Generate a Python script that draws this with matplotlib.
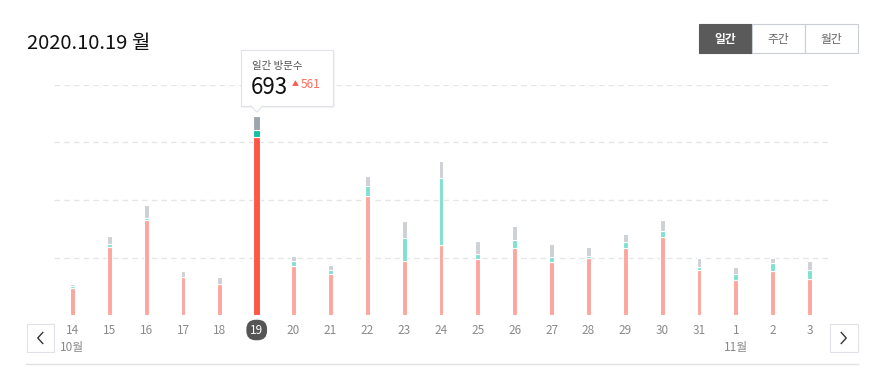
import matplotlib
matplotlib.use("Agg")
import matplotlib.pyplot as plt
import numpy as np
from matplotlib.patches import Rectangle, Polygon
from matplotlib.transforms import Affine2D, blended_transform_factory

plt.rcParams['font.family'] = ['Noto Sans CJK KR', 'DejaVu Sans']

W, H = 881, 387

# daily visitors, 2020.10.14 ~ 2020.11.03
days = ['14', '15', '16', '17', '18', '19', '20', '21', '22', '23', '24',
        '25', '26', '27', '28', '29', '30', '31', '1', '2', '3']
pink = [95, 236, 330, 132, 108, 620, 170, 143, 414, 189, 244,
        196, 234, 185, 199, 234, 272, 158, 123, 154, 126]
teal = [5, 11, 7, 0, 0, 22, 19, 12, 33, 79, 233,
        15, 28, 17, 5, 20, 20, 9, 20, 27, 29]
gray = [9, 28, 46, 21, 24, 51, 16, 19, 36, 59, 59,
        46, 48, 45, 33, 28, 38, 32, 25, 18, 33]
months = {'14': '10월', '1': '11월'}
selected = 5
title = '2020.10.19 월'
tabs = ['일간', '주간', '월간']

pink = np.array(pink)
teal = np.array(teal)
gray = np.array(gray)
total = pink + teal + gray
x = np.arange(len(days))

fig = plt.figure(figsize=(W / 100, H / 100), dpi=100)
px = Affine2D().scale(1 / W, -1 / H).translate(0, 1) + fig.transFigure

ax = fig.add_axes([54 / W, (H - 315) / H, (828 - 54) / W, (315 - 85) / H])
ax.set_xlim(-0.5, 20.5)
ax.set_ylim(0, 800)
for s in ax.spines.values():
    s.set_visible(False)
ax.set_yticks([200, 400, 600, 800])
ax.set_yticklabels([])
ax.tick_params(length=0)
ax.grid(axis='y', color='#e6e6e6', linestyle=(0, (4, 3)), linewidth=1)
ax.set_axisbelow(True)

widths = np.where(x == selected, 0.19, 0.135)
c_pink = ['#ff5646' if i == selected else '#fca79e' for i in x]
c_teal = ['#12c1a4' if i == selected else '#80e0d1' for i in x]
c_gray = ['#9ea5ad' if i == selected else '#cdd1d6' for i in x]
ax.bar(x, pink, width=widths, color=c_pink, edgecolor='white', linewidth=0.8)
ax.bar(x, teal, bottom=pink, width=widths, color=c_teal, edgecolor='white', linewidth=0.8)
ax.bar(x, gray, bottom=pink + teal, width=widths, color=c_gray, edgecolor='white', linewidth=0.8)

# day labels
ax.set_xticks([])
lbl = blended_transform_factory(ax.transData, px)
for i, d in enumerate(days):
    if i == selected:
        ax.text(i, 330, d, transform=lbl, ha='center', va='center', fontsize=8.5,
                color='white', bbox=dict(boxstyle='round,pad=0.32,rounding_size=0.8',
                                         fc='#555555', ec='none'))
    else:
        ax.text(i, 330, d, transform=lbl, ha='center', va='center', fontsize=8.5,
                color='#8a8a8a')
    if d in months:
        ax.text(i, 348, months[d], transform=lbl, ha='center', va='center',
                fontsize=8.5, color='#8a8a8a')

# title
fig.text(27, 43, title, transform=px, ha='left', va='center', fontsize=14.5, color='#111111')

# tabs
for k, t in enumerate(tabs):
    x0 = 699 + k * 53
    on = k == 0
    fig.patches.append(Rectangle((x0, 53), 53, -29.5, transform=px,
                                 fc='#5a5a5a' if on else 'white',
                                 ec='#5a5a5a' if on else '#c9ced6', lw=0.8))
    fig.text(x0 + 26.5, 39, t, transform=px, ha='center', va='center', fontsize=8.5,
             color='white' if on else '#666666', fontweight='bold' if on else 'normal')

# prev / next buttons
for x0, d in [(26.5, -1), (830, 1)]:
    fig.patches.append(Rectangle((x0, 352), 27.5, -28, transform=px,
                                 fc='white', ec='#dfe2e8', lw=0.8))
    cx = x0 + 13.75
    fig.lines.append(plt.Line2D([cx - 2.5 * d, cx + 2.5 * d, cx - 2.5 * d],
                                [332.5, 338, 343.5], transform=px,
                                color='#333333', lw=1.0))

# bottom rule
fig.lines.append(plt.Line2D([26, 858], [364, 364], transform=px, color='#e2e2e2', lw=1))

# tooltip
bx = ax.transData.transform((selected, 0))[0] / fig.dpi * 100
tx0, tx1, ty0, ty1 = 240.5, 333, 49.5, 106
fig.patches.append(Rectangle((tx0 + 1.5, ty1 + 1.5), tx1 - tx0, -(ty1 - ty0), transform=px,
                             fc='#000000', alpha=0.04, ec='none'))
fig.patches.append(Rectangle((tx0, ty1), tx1 - tx0, -(ty1 - ty0), transform=px,
                             fc='white', ec='#dfe2ea', lw=0.8))
fig.patches.append(Polygon([(bx - 6, ty1 - 0.5), (bx + 6, ty1 - 0.5), (bx, ty1 + 5.5)],
                           closed=True, transform=px, fc='white', ec='none'))
fig.lines.append(plt.Line2D([bx - 6, bx, bx + 6], [ty1, ty1 + 6, ty1], transform=px,
                            color='#dfe2ea', lw=0.8))
fig.text(252, 66, '일간 방문수', transform=px, ha='left', va='center', fontsize=7.5, color='#555555')
fig.text(251, 87, str(total[selected]), transform=px, ha='left', va='center',
         fontsize=16, color='#111111')
diff = total[selected] - total[selected - 1]
fig.text(292, 84, '▲', transform=px, ha='left', va='center', fontsize=5, color='#ff5a47')
fig.text(301, 84, str(diff), transform=px, ha='left', va='center', fontsize=8.5, color='#ff6b5a')

fig.savefig('out.png', dpi=100)
